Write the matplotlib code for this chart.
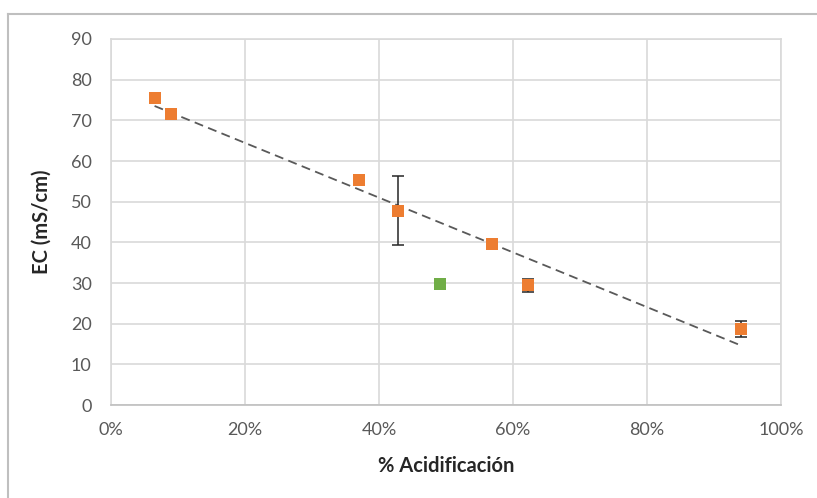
import numpy as np
import matplotlib.pyplot as plt
from matplotlib.lines import Line2D
from matplotlib.ticker import PercentFormatter

plt.rcParams['font.family'] = ['Lato', 'DejaVu Sans']

# orange series (with error bars)
acid = [0.065, 0.090, 0.370, 0.428, 0.569, 0.622, 0.940]
ec = [75.5, 71.6, 55.3, 47.8, 39.5, 29.4, 18.7]
ec_err = [0.0, 0.8, 0.0, 8.4, 0.0, 1.6, 2.0]

# green point
acid_g = [0.491]
ec_g = [29.7]

fig = plt.figure(figsize=(8.17, 4.98), dpi=100)
ax = fig.add_axes([0.1359, 0.1867, 0.956 - 0.1359, 0.9217 - 0.1867])

grid_c = '#d9d9d9'
ax.set_xlim(0, 1)
ax.set_ylim(0, 90)
ax.set_xticks(np.arange(0, 1.01, 0.2))
ax.set_yticks(np.arange(0, 91, 10))
ax.xaxis.set_major_formatter(PercentFormatter(1.0, decimals=0))
ax.grid(True, color=grid_c, lw=1.2)
ax.set_axisbelow(True)
for s in ax.spines.values():
    s.set_color(grid_c)
    s.set_linewidth(1.2)
ax.spines['bottom'].set_color('#bfbfbf')
ax.tick_params(axis='both', length=0, colors='#595959', labelsize=13)
ax.tick_params(axis='y', pad=14)
ax.tick_params(axis='x', pad=12)

# linear trend over orange series
k, b = np.polyfit(acid, ec, 1)
xt = np.array([min(acid), max(acid)])
ax.plot(xt, k * xt + b, ls=(0, (5, 3)), color='#595959', lw=1.3, zorder=2)

# error bars only where there is a spread
has_err = [i for i, e in enumerate(ec_err) if e > 0]
ax.errorbar([acid[i] for i in has_err], [ec[i] for i in has_err],
            yerr=[ec_err[i] for i in has_err], fmt='none', ecolor='#262626',
            elinewidth=1.1, capsize=4, capthick=1.1, zorder=3)
ax.scatter(acid, ec, marker='s', s=70, color='#ed7d31', zorder=4, linewidths=0)
ax.scatter(acid_g, ec_g, marker='s', s=70, color='#70ad47', zorder=4, linewidths=0)

ax.set_xlabel('% Acidificación', fontsize=14.5, fontweight='bold', color='#262626', labelpad=13)
ax.set_ylabel('EC (mS/cm)', fontsize=14.5, fontweight='bold', color='#262626', labelpad=14)

# outer chart frame (top and left edges visible)
fig.add_artist(Line2D([8 / 817, 1], [1 - 14 / 498] * 2, transform=fig.transFigure,
                      color='#bfbfbf', lw=1.5))
fig.add_artist(Line2D([8 / 817] * 2, [0, 1 - 14 / 498], transform=fig.transFigure,
                      color='#bfbfbf', lw=1.5))

fig.savefig('out.png', dpi=100)
